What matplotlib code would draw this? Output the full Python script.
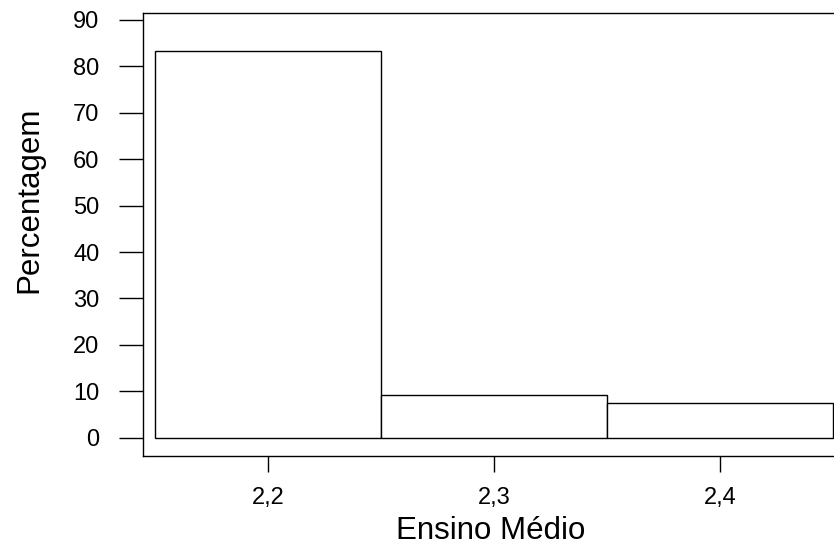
import matplotlib
matplotlib.use("Agg")
import matplotlib.pyplot as plt

plt.rcParams['font.family'] = ['Liberation Sans', 'DejaVu Sans']

# Data
bin_edges = [2.15, 2.25, 2.35, 2.45]
percentages = [83.33, 9.26, 7.41]
xtick_values = [2.2, 2.3, 2.4]
xtick_labels = ["2,2", "2,3", "2,4"]
ytick_values = [0, 10, 20, 30, 40, 50, 60, 70, 80, 90]
xlabel = "Ensino Médio"
ylabel = "Percentagem"

W, H = 834, 547
fig = plt.figure(figsize=(W / 100, H / 100), dpi=100)
left, right, top, bottom = 143, 856, 13.3, 456
ax = fig.add_axes([left / W, (H - bottom) / H, (right - left) / W, (bottom - top) / H])

lefts = bin_edges[:-1]
widths = [bin_edges[i + 1] - bin_edges[i] for i in range(len(percentages))]
ax.bar(lefts, percentages, width=widths, align='edge', facecolor='white',
       edgecolor='black', linewidth=1.0)

ax.set_xlim(2.1447, 2.1447 + (right - left) / 2260)
ax.set_ylim(-3.94, 91.44)

ax.set_xticks(xtick_values)
ax.set_xticklabels(xtick_labels)
ax.set_yticks(ytick_values)

ax.tick_params(axis='y', direction='out', length=17.3, width=1.0, pad=14, labelsize=17, color='black')
ax.tick_params(axis='x', direction='out', length=11.2, width=1.0, pad=11, labelsize=17, color='black')

for s in ['left', 'top', 'bottom']:
    ax.spines[s].set_linewidth(1.0)
    ax.spines[s].set_color('black')
ax.spines['right'].set_visible(False)

ax.set_xlabel(xlabel, fontsize=22.5, va='baseline', ha='center')
ax.xaxis.set_label_coords((490.5 - left) / (right - left), (bottom - 539) / (bottom - top))
ax.set_ylabel(ylabel, fontsize=22.5, va='baseline', ha='center')
ax.yaxis.set_label_coords((37 - left) / (right - left), (bottom - 200) / (bottom - top))

fig.savefig("out.png", dpi=100)
